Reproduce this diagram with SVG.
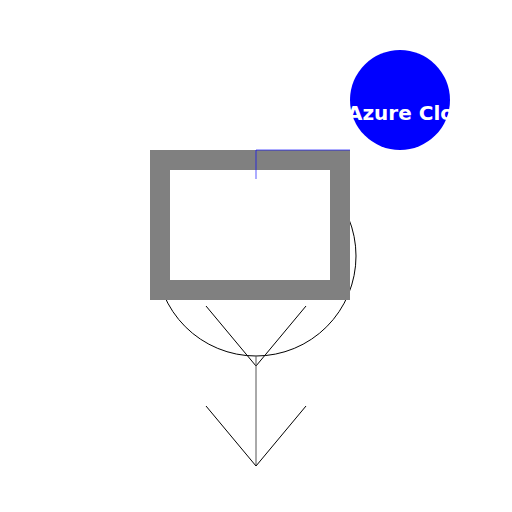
<svg xmlns="http://www.w3.org/2000/svg" width="512" height="512" viewBox="0 0 512 512">
<style>
.thin{fill:none;stroke:#000;stroke-width:1}
</style>
<defs>
<clipPath id="cc"><rect x="350" y="50" width="100" height="100"/></clipPath>
</defs>
<rect width="512" height="512" fill="#fff"/>
<g id="ring"><circle cx="256" cy="256" r="100" class="thin"/></g>
<g id="frame"><rect x="160" y="160" width="180" height="130" fill="#fff" stroke="#808080" stroke-width="20"/></g>
<g id="connectors">
<polyline points="256,179 256,150 350,150" fill="none" stroke="#0000ff" stroke-opacity="0.65" stroke-width="1"/>
<polyline points="206,306 256,366 306,306" class="thin"/>
<line x1="256" y1="356" x2="256" y2="466" stroke="#555" stroke-width="1"/>
<polyline points="206,406 256,466 306,406" class="thin"/>
</g>
<g id="cloud">
<circle cx="400" cy="100" r="50" fill="#0000ff"/>
<text x="347" y="120" font-family="DejaVu Sans, sans-serif" font-weight="bold" font-size="20" fill="#fff" clip-path="url(#cc)">Azure Cloud</text>
</g>
</svg>
